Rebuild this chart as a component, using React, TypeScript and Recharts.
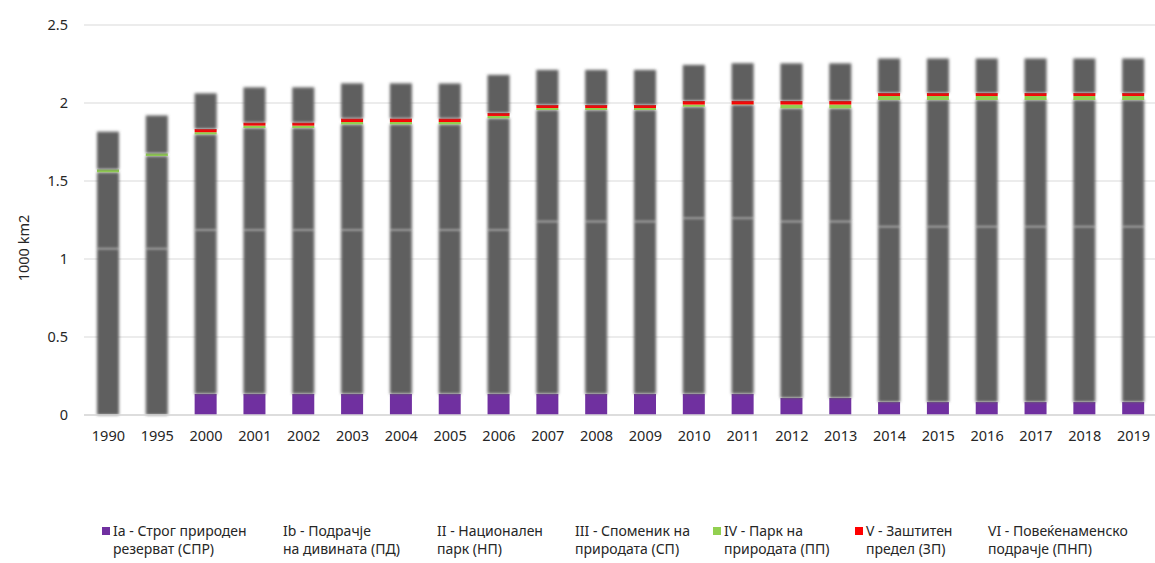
import React from 'react';
import { BarChart, Bar, XAxis, YAxis, CartesianGrid } from 'recharts';

if (typeof document !== 'undefined') {
  document.body.style.margin = '0';
  document.body.style.overflow = 'hidden';
}

const years = ['1990','1995','2000','2001','2002','2003','2004','2005','2006','2007','2008','2009','2010','2011','2012','2013','2014','2015','2016','2017','2018','2019'];
const ia = [0,0,0.135,0.135,0.135,0.135,0.135,0.135,0.135,0.135,0.135,0.135,0.135,0.135,0.109,0.109,0.083,0.083,0.083,0.083,0.083,0.083];
const ib = [0,0,0,0,0,0,0,0,0,0,0,0,0,0,0,0,0,0,0,0,0,0];
const ii = [1.066,1.066,1.051,1.051,1.051,1.051,1.051,1.051,1.051,1.105,1.105,1.105,1.127,1.127,1.131,1.131,1.124,1.124,1.124,1.124,1.124,1.124];
const iii = [0.490,0.594,0.613,0.654,0.654,0.677,0.677,0.677,0.716,0.715,0.715,0.715,0.714,0.726,0.726,0.726,0.812,0.812,0.812,0.812,0.812,0.812];
const iv = [0.018,0.017,0.014,0.015,0.015,0.015,0.015,0.015,0.015,0.013,0.013,0.013,0.014,0.003,0.024,0.024,0.026,0.026,0.026,0.026,0.026,0.026];
const v = [0,0,0.020,0.019,0.019,0.022,0.022,0.022,0.019,0.019,0.019,0.019,0.023,0.023,0.023,0.023,0.019,0.019,0.019,0.019,0.019,0.019];
const vi = [0.242,0.243,0.229,0.226,0.226,0.226,0.226,0.225,0.244,0.225,0.225,0.225,0.231,0.241,0.241,0.241,0.221,0.221,0.221,0.221,0.221,0.221];

const yTicks = [0, 0.5, 1, 1.5, 2, 2.5];
const yLabel = '1000 km2';

const seriesKeys = ['ia','ib','ii','iii','iv','v','vi'];
const seriesNames = [
  ['Ia - Строг природен', 'резерват (СПР)'],
  ['Ib - Подрачје', 'на дивината (ПД)'],
  ['II - Национален', 'парк (НП)'],
  ['III - Споменик на', 'природата (СП)'],
  ['IV - Парк на', 'природата (ПП)'],
  ['V - Заштитен', 'предел (ЗП)'],
  ['VI - Повеќенаменско', 'подрачје (ПНП)'],
];
const seriesColors = ['#7030A0','#5E5E5E','#5E5E5E','#5E5E5E','#92D050','#FF0000','#5E5E5E'];
const seriesSoft = [false, true, true, true, false, false, true];
const legendMarker = [true, false, false, false, true, true, false];
const legendLeft = [113, 283, 437, 575, 724, 866, 988];

const data = years.map((year, i) => ({
  year,
  ia: ia[i], ib: ib[i], ii: ii[i], iii: iii[i], iv: iv[i], v: v[i], vi: vi[i],
}));

const FONT = '"Noto Sans", "Open Sans", sans-serif';
const TEXT = '#262626';

const softShape = (props: any) => {
  const { x, y, width, height, fill } = props;
  if (!height || height <= 0) return <g />;
  return <rect x={x} y={y} width={width} height={height} fill={fill} filter="url(#softEdge)" />;
};
const hardShape = (props: any) => {
  const { x, y, width, height, fill } = props;
  if (!height || height <= 0) return <g />;
  return <rect x={x} y={y} width={width} height={height} fill={fill} />;
};

export default function App() {
  return (
    <div style={{ position: 'relative', width: 1155, height: 563, overflow: 'hidden', fontFamily: FONT, background: '#fff' }}>
      <svg width="0" height="0" style={{ position: 'absolute' }}>
        <defs>
          <filter id="softEdge" x="-50%" y="-30%" width="200%" height="160%">
            <feGaussianBlur stdDeviation="1.8" />
          </filter>
        </defs>
      </svg>
      <BarChart
        width={1168}
        height={563}
        data={data}
        margin={{ top: 25, right: 10, left: 0, bottom: 118 }}
        barSize={22}
      >
        <CartesianGrid vertical={false} stroke="#d9d9d9" />
        <XAxis
          dataKey="year"
          interval={0}
          tickLine={false}
          tickSize={0}
          tickMargin={16}
          axisLine={{ stroke: '#d9d9d9', strokeWidth: 1.5 }}
          tick={{ fill: TEXT, fontSize: 14.5, fontFamily: FONT }}
          height={30}
        />
        <YAxis
          width={84}
          domain={[0, 2.5]}
          ticks={yTicks}
          axisLine={false}
          tickLine={false}
          tickSize={0}
          tickMargin={16}
          tick={{ fill: TEXT, fontSize: 14.5, fontFamily: FONT }}
        />
        {seriesKeys.map((k, i) => (
          <Bar
            key={k}
            dataKey={k}
            stackId="a"
            fill={seriesColors[i]}
            isAnimationActive={false}
            shape={seriesSoft[i] ? softShape : hardShape}
          />
        ))}
      </BarChart>
      <div
        style={{
          position: 'absolute', left: 22.5, top: 248, transform: 'translate(-50%, -50%) rotate(-90deg)',
          fontSize: 14.5, color: TEXT, whiteSpace: 'nowrap',
        }}
      >
        {yLabel}
      </div>
      {seriesNames.map((lines, i) => (
        <div key={i} style={{ position: 'absolute', left: legendLeft[i], top: 522, fontSize: 14, lineHeight: '18px', color: TEXT, whiteSpace: 'nowrap' }}>
          {legendMarker[i] && (
            <span style={{ position: 'absolute', left: -11.5, top: 5, width: 8, height: 8, background: seriesColors[i] }} />
          )}
          <div>{lines[0]}</div>
          <div>{lines[1]}</div>
        </div>
      ))}
    </div>
  );
}
